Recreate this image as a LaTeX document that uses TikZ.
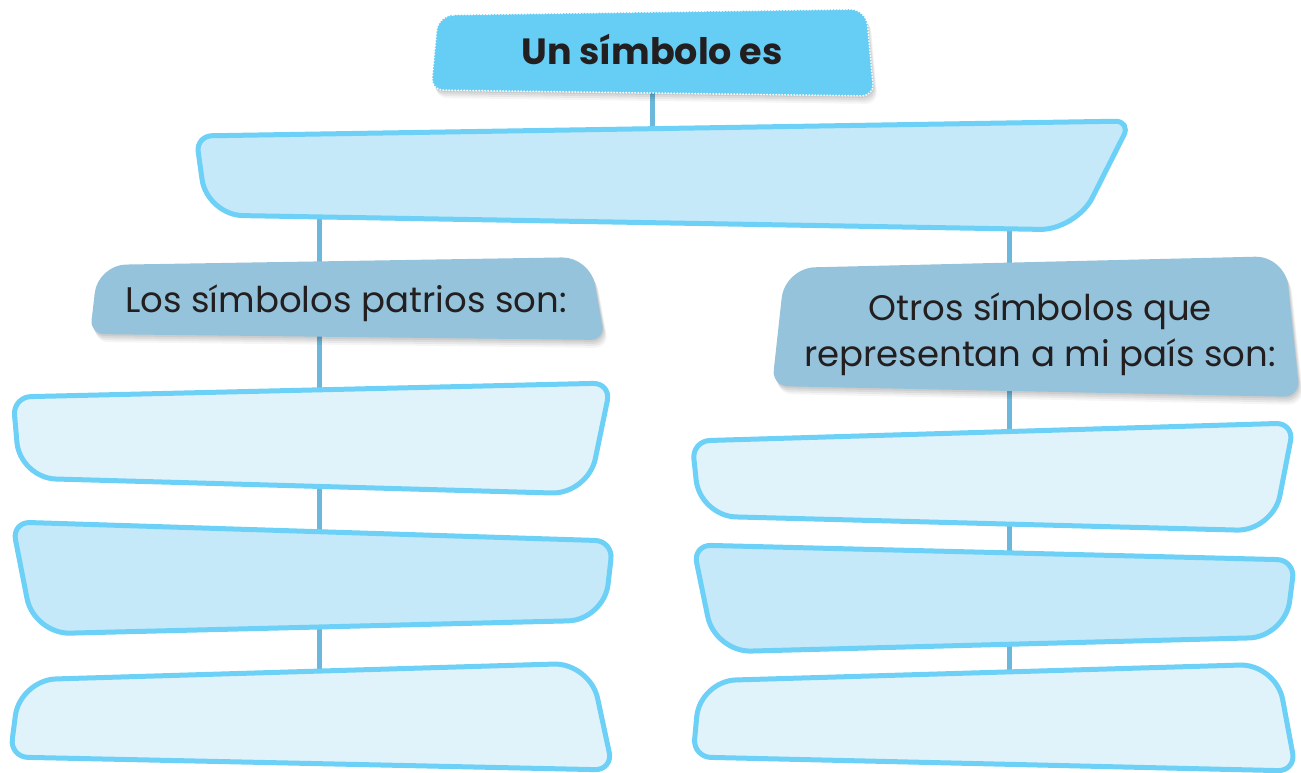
\documentclass[tikz,border=0pt]{standalone}
\usepackage{fontspec}
\setmainfont{Poppins}
\usetikzlibrary{calc}
\definecolor{edgeC}{HTML}{6DD0F6}
\definecolor{fillDark}{HTML}{C6E9F9}
\definecolor{fillLight}{HTML}{E0F3FB}
\definecolor{connC}{HTML}{6BB8DC}
\definecolor{titleC}{HTML}{66CDF4}
\definecolor{hdrC}{HTML}{94C3DB}
\definecolor{txtC}{HTML}{231F20}
% #1 style, #2 TL, #3 TR, #4 BR, #5 BL, #6 rTL, #7 rTR, #8 rBR, #9 rBL (numbers, in pt)
\newcommand\myrbox[9]{%
  \path[#1] ($(#2)!#6pt!(#3)$)
    -- ($(#3)!#7pt!(#2)$) .. controls ($(#3)!0.45*#7pt!(#2)$) and ($(#3)!0.45*#7pt!(#4)$) .. ($(#3)!#7pt!(#4)$)
    -- ($(#4)!#8pt!(#3)$) .. controls ($(#4)!0.45*#8pt!(#3)$) and ($(#4)!0.45*#8pt!(#5)$) .. ($(#4)!#8pt!(#5)$)
    -- ($(#5)!#9pt!(#4)$) .. controls ($(#5)!0.45*#9pt!(#4)$) and ($(#5)!0.45*#9pt!(#2)$) .. ($(#5)!#9pt!(#2)$)
    -- ($(#2)!#6pt!(#5)$) .. controls ($(#2)!0.45*#6pt!(#5)$) and ($(#2)!0.45*#6pt!(#3)$) .. ($(#2)!#6pt!(#3)$)
    -- cycle;}
\newcommand\myshadow[8]{%
  \myrbox{fill=black,fill opacity=0.06,transform canvas={shift={(1pt,-2pt)}}}{#1}{#2}{#3}{#4}{#5}{#6}{#7}{#8}%
  \myrbox{fill=black,fill opacity=0.06,transform canvas={shift={(2pt,-4pt)}}}{#1}{#2}{#3}{#4}{#5}{#6}{#7}{#8}%
  \myrbox{fill=black,fill opacity=0.05,transform canvas={shift={(3pt,-6pt)}}}{#1}{#2}{#3}{#4}{#5}{#6}{#7}{#8}%
  \myrbox{fill=black,fill opacity=0.04,transform canvas={shift={(4pt,-8pt)}}}{#1}{#2}{#3}{#4}{#5}{#6}{#7}{#8}}
\begin{document}
\begin{tikzpicture}[x=1pt,y=-1pt,
  conn/.style={draw=connC,line width=5pt},
  darkbox/.style={fill=fillDark,draw=edgeC,line width=5pt,line join=round},
  lightbox/.style={fill=fillLight,draw=edgeC,line width=5pt,line join=round},
  hdrbox/.style={fill=hdrC},
  titlebox/.style={fill=titleC},
  titledots/.style={draw=white,line width=2pt,dash pattern=on 0pt off 3pt,line cap=round},
  lbl/.style={text=txtC,inner sep=0pt,font=\fontsize{35.5}{46}\selectfont},
  titlelbl/.style={text=txtC,inner sep=0pt,font=\fontsize{36.5}{42}\selectfont\bfseries}]
\useasboundingbox[fill=white] (0,0) rectangle (1301,773);
% anchor coordinates
\coordinate (title) at (652,53);
\coordinate (main) at (652,175);
\coordinate (mainL) at (319,175);
\coordinate (mainR) at (1009,175);
\coordinate (hdrL) at (319,298);
\coordinate (hdrR) at (1009,325);
\coordinate (L1) at (319,440);
\coordinate (L2) at (319,580);
\coordinate (L3) at (319,718);
\coordinate (R1) at (1009,477);
\coordinate (R2) at (1009,598);
\coordinate (R3) at (1009,718);
% connectors
\draw[conn] (title) -- (main);
\draw[conn] (mainL) -- (hdrL) -- (L1) -- (L2) -- (L3);
\draw[conn] (mainR) -- (hdrR) -- (R1) -- (R2) -- (R3);
% title box
\coordinate (tTL) at (438,15); \coordinate (tTR) at (866,9);
\coordinate (tBR) at (874,96); \coordinate (tBL) at (431,90);
\myshadow{tTL}{tTR}{tBR}{tBL}{16}{16}{12}{12}
\myrbox{titlebox}{tTL}{tTR}{tBR}{tBL}{16}{16}{12}{12}
\myrbox{titledots}{tTL}{tTR}{tBR}{tBL}{16}{16}{12}{12}
% main box
\coordinate (mTL) at (196,136); \coordinate (mTR) at (1131,121);
\coordinate (mBR) at (1076,230); \coordinate (mBL) at (207,215);
\myrbox{darkbox}{mTL}{mTR}{mBR}{mBL}{16}{16}{36}{36}
% header left
\coordinate (hlTL) at (98,265); \coordinate (hlTR) at (590,257);
\coordinate (hlBR) at (605,340); \coordinate (hlBL) at (90,334);
\myshadow{hlTL}{hlTR}{hlBR}{hlBL}{28}{28}{14}{14}
\myrbox{hdrbox}{hlTL}{hlTR}{hlBR}{hlBL}{28}{28}{14}{14}
% header right
\coordinate (hrTL) at (785,268); \coordinate (hrTR) at (1285,256);
\coordinate (hrBR) at (1300,397); \coordinate (hrBL) at (772,386);
\myshadow{hrTL}{hrTR}{hrBR}{hrBL}{30}{30}{16}{16}
\myrbox{hdrbox}{hrTL}{hrTR}{hrBR}{hrBL}{30}{30}{16}{16}
% left column
\coordinate (a1) at (13,397); \coordinate (b1) at (611,383);
\coordinate (c1) at (588,494); \coordinate (d1) at (20,478);
\myrbox{lightbox}{a1}{b1}{c1}{d1}{18}{18}{36}{36}
\coordinate (a2) at (12,522); \coordinate (b2) at (613,541);
\coordinate (c2) at (604,620); \coordinate (d2) at (34,634);
\myrbox{darkbox}{a2}{b2}{c2}{d2}{18}{18}{36}{36}
\coordinate (a3) at (20,680); \coordinate (b3) at (590,663);
\coordinate (c3) at (613,770); \coordinate (d3) at (10,757);
\myrbox{lightbox}{a3}{b3}{c3}{d3}{36}{36}{18}{18}
% right column
\coordinate (e1) at (692,441); \coordinate (f1) at (1294,423);
\coordinate (g1) at (1273,531); \coordinate (h1) at (700,516);
\myrbox{lightbox}{e1}{f1}{g1}{h1}{18}{18}{36}{36}
\coordinate (e2) at (693,545); \coordinate (f2) at (1295,560);
\coordinate (g2) at (1285,637); \coordinate (h2) at (715,652);
\myrbox{darkbox}{e2}{f2}{g2}{h2}{18}{18}{36}{36}
\coordinate (e3) at (700,681); \coordinate (f3) at (1276,664);
\coordinate (g3) at (1296,771); \coordinate (h3) at (693,757);
\myrbox{lightbox}{e3}{f3}{g3}{h3}{36}{36}{18}{18}
% labels
\node[titlelbl,anchor=base] (titletext) at (652,65) {Un símbolo es};
\node[lbl,anchor=base] (hdrLtext) at (346,312) {Los símbolos patrios son:};
\node[lbl,align=center] (hdrRtext) at (1040,334) {Otros símbolos que\\representan a mi país son:};
\end{tikzpicture}
\end{document}
